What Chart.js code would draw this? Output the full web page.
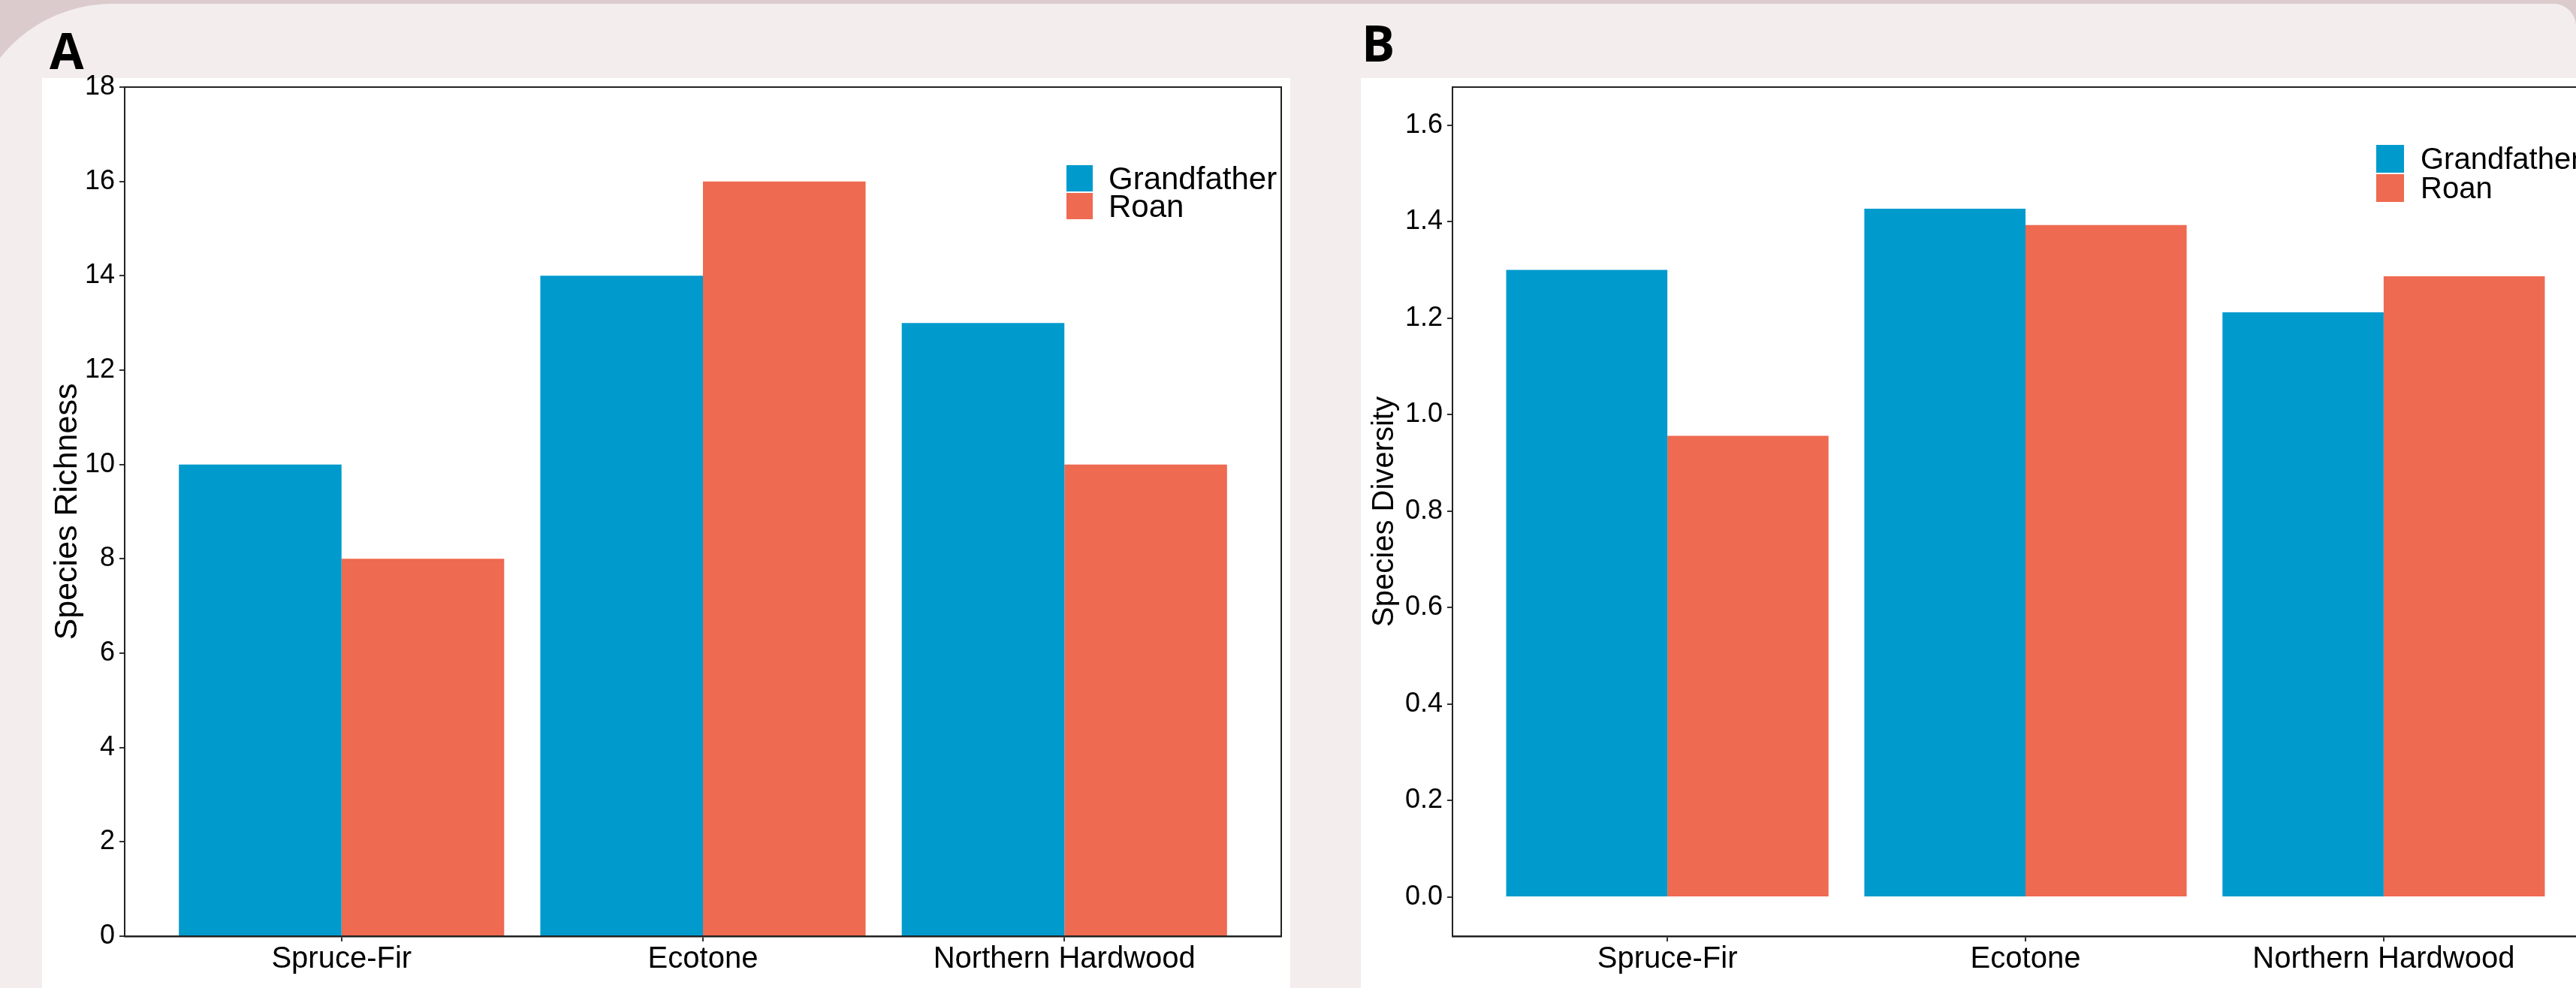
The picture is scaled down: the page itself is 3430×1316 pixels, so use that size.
<!DOCTYPE html>
<html>
<head>
<meta charset="utf-8">
<title>Species richness and diversity</title>
<script src="https://cdn.jsdelivr.net/npm/chart.js@4.4.1/dist/chart.umd.min.js"></script>
<style>
  html, body { margin: 0; padding: 0; }
  body {
    width: 3430px; height: 1316px; overflow: hidden; position: relative;
    background: #dccbcd;
    font-family: "Liberation Sans", Arial, sans-serif;
  }
  #backdrop {
    position: absolute; left: -42px; top: 5px; width: 3472px; height: 1400px;
    background: #f3eded; border-radius: 192px 30px 0 0;
  }
  .panel { position: absolute; top: 104px; bottom: 0; background: #fff; }
  #panelA { left: 56px; width: 1662px; }
  #panelB { left: 1812px; width: 1618px; }
  .tag {
    position: absolute; font-family: "Open Sans", sans-serif; font-weight: 700;
    font-size: 66px; line-height: 66px; color: #000;
  }
  canvas { position: absolute; }
  .legend { position: absolute; color: #000; white-space: nowrap; }
  .legend-item { display: flex; align-items: center; }
  #legendA { font-size: 42px; }
  #legendA .legend-item { height: 37px; }
  #legendA .legend-box { width: 35px; height: 35px; margin-right: 21px; }
  #legendB { font-size: 40px; }
  #legendB .legend-item { height: 39px; }
  #legendB .legend-box { width: 37px; height: 37px; margin-right: 22px; }
</style>
</head>
<body>
<div id="backdrop"></div>
<div class="panel" id="panelA"></div>
<div class="panel" id="panelB"></div>
<div class="tag" style="left:66px; top:33px;">A</div>
<div class="tag" style="left:1813px; top:23px;">B</div>
<canvas id="chartA" width="1662" height="1256" style="left:56px; top:60px;"></canvas>
<canvas id="chartB" width="1660" height="1256" style="left:1812px; top:60px;"></canvas>
<div class="legend" id="legendA" style="left:1420px; top:219px;"></div>
<div class="legend" id="legendB" style="left:3164px; top:192px;"></div>

<script>
// data
const categories = ['Spruce-Fir', 'Ecotone', 'Northern Hardwood'];
const seriesNames = ['Grandfather', 'Roan'];
const seriesColors = ['#009ACD', '#EE6A50'];

const richnessGrandfather = [10, 14, 13];
const richnessRoan = [8, 16, 10];
const richnessTicks = [0, 2, 4, 6, 8, 10, 12, 14, 16, 18];
const richnessRange = [0, 18];

const diversityGrandfather = [1.30, 1.427, 1.212];
const diversityRoan = [0.956, 1.393, 1.287];
const diversityTicks = [0, 0.2, 0.4, 0.6, 0.8, 1.0, 1.2, 1.4, 1.6];
const diversityRange = [-0.081, 1.679];

Chart.defaults.font.family = '"Liberation Sans", Arial, sans-serif';
Chart.defaults.color = '#000';

// box round the plot area, like the ggplot panel border
const frame = {
    id: 'frame',
    afterDraw(chart) {
        const { ctx, chartArea: a } = chart;
        ctx.save();
        ctx.strokeStyle = '#222';
        ctx.lineWidth = 2;
        ctx.strokeRect(a.left, a.top, a.right - a.left, a.bottom - a.top);
        ctx.restore();
    }
};

function toPoints(values) {
    return values.map((v, i) => ({ x: i + 1, y: v }));
}

function makeChart(canvasId, series, range, ticks, title, titleSize, yWidth, fmt) {
    const ctx = document.getElementById(canvasId).getContext('2d');
    return new Chart(ctx, {
        type: 'bar',
        data: {
            datasets: series.map((values, i) => ({
                label: seriesNames[i],
                data: toPoints(values),
                backgroundColor: seriesColors[i],
                borderWidth: 0,
                categoryPercentage: 0.9,
                barPercentage: 1
            }))
        },
        options: {
            responsive: false,
            animation: false,
            devicePixelRatio: 1,
            layout: { padding: { top: 56, right: 12, bottom: 0, left: 0 } },
            plugins: {
                legend: { display: false },
                tooltip: { enabled: false }
            },
            scales: {
                x: {
                    type: 'linear',
                    min: 0.4,
                    max: 3.6,
                    bounds: 'data',
                    offset: false,
                    afterBuildTicks: (axis) => {
                        axis.ticks = categories.map((c, i) => ({ value: i + 1 }));
                    },
                    afterFit: (axis) => { axis.height = 69; },
                    grid: {
                        offset: false, drawOnChartArea: false, drawTicks: true,
                        tickLength: 7, color: '#333', lineWidth: 2
                    },
                    border: { display: true, color: '#222', width: 2.5 },
                    ticks: {
                        autoSkip: false, maxRotation: 0, padding: 0,
                        font: { size: 40 },
                        callback: (v) => categories[v - 1]
                    }
                },
                y: {
                    min: range[0],
                    max: range[1],
                    bounds: 'data',
                    afterBuildTicks: (axis) => {
                        axis.ticks = ticks.map((v) => ({ value: v }));
                    },
                    afterFit: (axis) => { axis.width = yWidth; },
                    grid: {
                        drawOnChartArea: false, drawTicks: true,
                        tickLength: 7, color: '#333', lineWidth: 2
                    },
                    border: { display: true, color: '#222', width: 2 },
                    ticks: { padding: 6, font: { size: 36 }, callback: fmt },
                    title: {
                        display: true, text: title,
                        font: { size: titleSize },
                        padding: { top: 8, bottom: 0 }
                    }
                }
            }
        },
        plugins: [frame]
    });
}

function buildLegend(chart, id) {
    const box = document.getElementById(id);
    chart.data.datasets.forEach((ds) => {
        const item = document.createElement('div');
        item.className = 'legend-item';
        item.innerHTML = `<span class="legend-box" style="background:${ds.backgroundColor}"></span><span>${ds.label}</span>`;
        box.appendChild(item);
    });
}

const chartA = makeChart('chartA', [richnessGrandfather, richnessRoan], richnessRange,
    richnessTicks, 'Species Richness', 43, 110, (v) => String(v));
const chartB = makeChart('chartB', [diversityGrandfather, diversityRoan], diversityRange,
    diversityTicks, 'Species Diversity', 40, 122, (v) => v.toFixed(1));

buildLegend(chartA, 'legendA');
buildLegend(chartB, 'legendB');
</script>
</body>
</html>
